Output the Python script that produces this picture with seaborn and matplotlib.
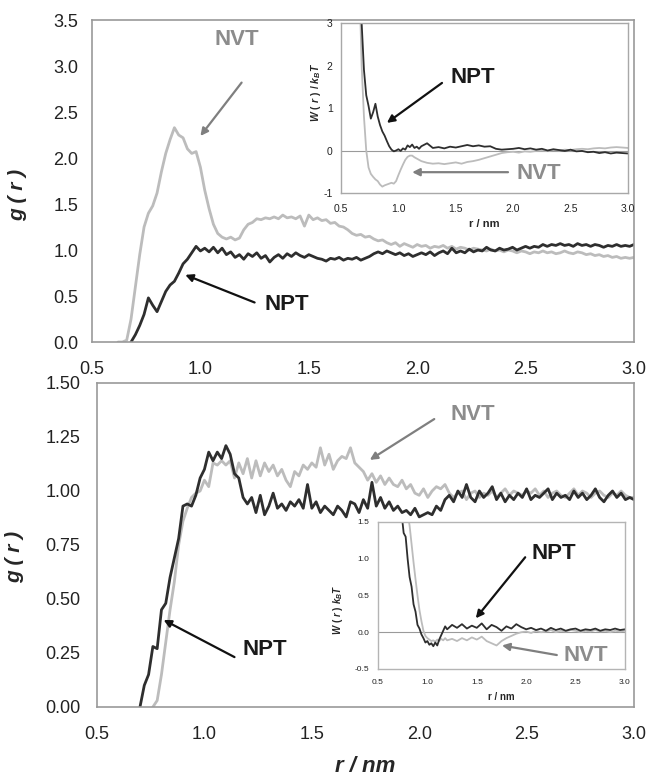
import matplotlib
matplotlib.use("Agg")
import matplotlib.pyplot as plt
from matplotlib.ticker import FormatStrFormatter, MultipleLocator
import seaborn as sns

nan = float('nan')

# r grid of the two big panels (nm)
r_main = [0.62, 0.64, 0.66, 0.68, 0.70, 0.72, 0.74, 0.76, 0.78, 0.80,
          0.82, 0.84, 0.86, 0.88, 0.90, 0.92, 0.94, 0.96, 0.98, 1.00,
          1.02, 1.04, 1.06, 1.08, 1.10, 1.12, 1.14, 1.16, 1.18, 1.20,
          1.22, 1.24, 1.26, 1.28, 1.30, 1.32, 1.34, 1.36, 1.38, 1.40,
          1.42, 1.44, 1.46, 1.48, 1.50, 1.52, 1.54, 1.56, 1.58, 1.60,
          1.62, 1.64, 1.66, 1.68, 1.70, 1.72, 1.74, 1.76, 1.78, 1.80,
          1.82, 1.84, 1.86, 1.88, 1.90, 1.92, 1.94, 1.96, 1.98, 2.00,
          2.02, 2.04, 2.06, 2.08, 2.10, 2.12, 2.14, 2.16, 2.18, 2.20,
          2.22, 2.24, 2.26, 2.28, 2.30, 2.32, 2.34, 2.36, 2.38, 2.40,
          2.42, 2.44, 2.46, 2.48, 2.50, 2.52, 2.54, 2.56, 2.58, 2.60,
          2.62, 2.64, 2.66, 2.68, 2.70, 2.72, 2.74, 2.76, 2.78, 2.80,
          2.82, 2.84, 2.86, 2.88, 2.90, 2.92, 2.94, 2.96, 2.98, 3.00]

# top panel g(r)
g_top_nvt = [0.00, 0.00, 0.02, 0.25, 0.60, 0.95, 1.25, 1.40, 1.48, 1.62,
             1.85, 2.05, 2.20, 2.33, 2.25, 2.22, 2.10, 2.05, 2.07, 1.90,
             1.65, 1.45, 1.28, 1.18, 1.14, 1.12, 1.14, 1.11, 1.13, 1.22,
             1.28, 1.30, 1.34, 1.33, 1.35, 1.34, 1.36, 1.34, 1.38, 1.35,
             1.36, 1.34, 1.37, 1.26, 1.38, 1.33, 1.35, 1.32, 1.33, 1.29,
             1.30, 1.26, 1.25, 1.22, 1.18, 1.16, 1.17, 1.14, 1.15, 1.12,
             1.10, 1.11, 1.08, 1.06, 1.08, 1.04, 1.07, 1.05, 1.03, 1.06,
             1.04, 1.05, 1.02, 1.04, 1.03, 1.05, 1.02, 1.04, 1.01, 1.03,
             1.02, 1.00, 1.02, 1.01, 1.00, 0.99, 1.01, 0.99, 1.00, 0.98,
             1.00, 0.99, 0.97, 0.99, 0.98, 0.96, 0.98, 0.97, 0.99, 0.97,
             0.98, 0.96, 0.97, 0.99, 0.97, 0.96, 0.98, 0.97, 0.95, 0.96,
             0.94, 0.95, 0.93, 0.94, 0.92, 0.93, 0.91, 0.92, 0.91, 0.92]
g_top_npt = [nan, nan, nan, 0.00, 0.08, 0.18, 0.30, 0.48, 0.40, 0.33,
             0.44, 0.55, 0.62, 0.66, 0.75, 0.85, 0.90, 0.97, 1.04, 0.99,
             1.02, 0.98, 1.03, 0.97, 1.02, 0.95, 0.98, 0.92, 0.95, 0.90,
             0.96, 0.93, 0.97, 0.91, 0.94, 0.87, 0.92, 0.95, 0.91, 0.96,
             0.93, 0.97, 0.94, 0.92, 0.95, 0.93, 0.91, 0.90, 0.88, 0.91,
             0.90, 0.92, 0.89, 0.91, 0.90, 0.92, 0.89, 0.91, 0.93, 0.96,
             0.98, 0.96, 0.99, 0.97, 0.95, 0.97, 0.94, 0.96, 0.93, 0.95,
             0.97, 0.95, 0.98, 0.94, 0.97, 0.99, 0.96, 1.02, 0.97, 0.99,
             0.97, 1.01, 0.98, 1.00, 0.99, 1.03, 1.00, 0.99, 1.02, 1.00,
             1.01, 1.03, 1.00, 1.02, 1.04, 1.02, 1.04, 1.03, 1.06, 1.04,
             1.06, 1.05, 1.07, 1.05, 1.06, 1.04, 1.07, 1.05, 1.06, 1.04,
             1.06, 1.05, 1.03, 1.05, 1.04, 1.06, 1.04, 1.05, 1.04, 1.06]

# bottom panel g(r)
g_bot_npt = [nan, nan, nan, nan, 0.00, 0.10, 0.15, 0.28, 0.27, 0.45,
             0.48, 0.60, 0.69, 0.78, 0.93, 0.94, 0.93, 0.98, 1.06, 1.10,
             1.18, 1.14, 1.18, 1.15, 1.21, 1.17, 1.08, 1.06, 0.97, 0.94,
             0.97, 0.90, 0.98, 0.89, 0.93, 0.99, 0.92, 0.94, 0.91, 0.95,
             0.93, 0.96, 0.92, 1.03, 0.92, 0.95, 0.90, 0.93, 0.91, 0.89,
             0.93, 0.91, 0.88, 0.95, 0.94, 0.90, 0.96, 0.92, 1.04, 0.93,
             0.97, 0.92, 0.95, 0.91, 0.93, 0.90, 0.91, 0.89, 0.92, 0.88,
             0.89, 0.90, 0.89, 0.93, 0.91, 0.96, 0.98, 0.95, 1.00, 0.97,
             1.03, 0.97, 0.95, 1.00, 0.97, 0.99, 1.02, 0.96, 0.99, 0.95,
             0.98, 0.96, 0.99, 0.97, 1.01, 0.96, 0.98, 0.97, 0.99, 1.01,
             0.96, 0.99, 0.97, 0.98, 0.96, 1.00, 0.97, 0.99, 0.96, 0.98,
             1.01, 0.97, 0.95, 0.98, 1.00, 0.97, 0.99, 0.96, 0.97, 0.96]
g_bot_nvt = [nan, nan, nan, nan, nan, nan, nan, 0.00, 0.03, 0.15,
             0.30, 0.45, 0.58, 0.75, 0.86, 0.92, 0.97, 0.99, 1.00, 1.05,
             1.02, 1.13, 1.12, 1.14, 1.12, 1.14, 1.06, 1.13, 1.08, 1.15,
             1.06, 1.14, 1.07, 1.13, 1.09, 1.12, 1.07, 1.10, 1.05, 1.02,
             1.09, 1.07, 1.12, 1.10, 1.13, 1.11, 1.20, 1.12, 1.17, 1.10,
             1.14, 1.16, 1.15, 1.20, 1.13, 1.11, 1.09, 1.05, 1.08, 1.04,
             1.07, 1.03, 1.06, 1.03, 1.02, 1.05, 1.01, 1.03, 0.99, 0.98,
             1.01, 0.97, 1.00, 1.02, 1.01, 1.03, 0.99, 0.97, 0.99, 1.00,
             0.96, 0.99, 1.00, 0.97, 0.99, 0.98, 1.00, 0.97, 0.99, 1.01,
             0.98, 1.00, 0.99, 0.98, 1.00, 0.99, 1.01, 0.98, 1.00, 0.97,
             0.99, 1.00, 0.98, 0.97, 0.99, 1.01, 0.98, 1.00, 0.99, 0.97,
             0.99, 1.00, 0.98, 0.97, 0.99, 0.98, 1.00, 0.98, 0.97, 0.97]

# r grid of the insets
r_ins = [0.66, 0.68, 0.70, 0.72, 0.74, 0.76, 0.78, 0.80, 0.82, 0.84,
         0.86, 0.88, 0.90, 0.92, 0.94, 0.96, 0.98, 1.00, 1.02, 1.04,
         1.06, 1.08, 1.10, 1.12, 1.14, 1.16, 1.18, 1.20,
         1.25, 1.30, 1.35, 1.40, 1.45, 1.50, 1.55, 1.60, 1.65, 1.70,
         1.75, 1.80, 1.85, 1.90, 1.95, 2.00, 2.05, 2.10, 2.15, 2.20,
         2.25, 2.30, 2.35, 2.40, 2.45, 2.50, 2.55, 2.60, 2.65, 2.70,
         2.75, 2.80, 2.85, 2.90, 2.95, 3.00]

# W(r)/kBT, top inset
w_top_npt = [5.0, 3.0, 1.9, 1.30, 1.05, 0.75, 0.90, 1.10, 0.80, 0.60,
             0.45, 0.35, 0.22, 0.10, 0.02, -0.02, 0.00, 0.03, -0.01, 0.05,
             0.02, 0.12, 0.08, 0.14, 0.06, 0.09, 0.04, 0.10,
             0.17, 0.06, 0.08, 0.05, 0.09, 0.07, 0.10, 0.13, 0.10, 0.12,
             0.09, 0.10, 0.04, 0.02, 0.03, 0.04, 0.06, 0.03, 0.05, 0.02,
             0.04, 0.00, 0.03, 0.01, -0.01, 0.02, -0.02, -0.01, -0.04, -0.03,
             -0.06, -0.04, -0.07, -0.05, -0.06, -0.07]
w_top_nvt = [4.0, 2.0, 0.8, 0.00, -0.40, -0.55, -0.62, -0.68, -0.72, -0.80,
             -0.85, -0.82, -0.80, -0.78, -0.76, -0.78, -0.72, -0.58, -0.45, -0.33,
             -0.22, -0.15, -0.12, -0.12, -0.16, -0.19, -0.22, -0.25,
             -0.29, -0.31, -0.30, -0.32, -0.30, -0.28, -0.31, -0.27, -0.25, -0.22,
             -0.18, -0.14, -0.10, -0.06, -0.04, -0.03, -0.05, -0.02, -0.03, -0.01,
             0.00, -0.01, 0.01, 0.00, 0.02, 0.01, 0.03, 0.04, 0.03, 0.05,
             0.06, 0.05, 0.07, 0.08, 0.07, 0.06]

# W(r) kBT, bottom inset
w_bot_npt = [3.0, 2.6, 2.2, 1.9, 1.6, 1.35, 1.30, 1.00, 0.75, 0.62,
             0.38, 0.28, 0.10, 0.05, -0.03, -0.08, -0.14, -0.12, -0.17, -0.15,
             -0.19, -0.14, -0.18, -0.10, -0.04, 0.02, 0.08, 0.04,
             0.10, 0.06, 0.11, 0.05, 0.09, 0.06, 0.12, 0.04, 0.10, 0.07,
             0.02, 0.08, 0.05, 0.11, 0.07, 0.04, 0.06, 0.03, 0.05, 0.02,
             0.06, 0.03, 0.05, 0.02, 0.04, 0.05, 0.02, 0.04, 0.03, 0.05,
             0.02, 0.04, 0.03, 0.05, 0.03, 0.04]
w_bot_nvt = [4.0, 3.6, 3.2, 2.8, 2.4, 2.1, 1.85, 1.62, 1.45, 1.20,
             0.95, 0.72, 0.50, 0.30, 0.15, 0.02, -0.05, -0.08, -0.10, -0.12,
             -0.11, -0.13, -0.10, -0.12, -0.09, -0.11, -0.08, -0.11,
             -0.09, -0.12, -0.08, -0.11, -0.07, -0.10, -0.06, -0.12, -0.15, -0.18,
             -0.12, -0.08, -0.05, -0.02, 0.00, 0.01, -0.01, 0.02, 0.00, 0.01,
             0.03, 0.00, 0.02, 0.01, 0.03, 0.02, 0.00, 0.02, 0.01, 0.03,
             0.01, 0.02, 0.00, 0.02, 0.01, 0.02]

sns.set_style("white")
plt.rcParams['font.family'] = ['Liberation Sans', 'DejaVu Sans']
plt.rcParams['mathtext.fontset'] = 'custom'
plt.rcParams['mathtext.it'] = 'Liberation Sans:italic:bold'
plt.rcParams['mathtext.rm'] = 'Liberation Sans:bold'
plt.rcParams['mathtext.bf'] = 'Liberation Sans:bold'

NPT_C = '#2e2e2e'
NVT_C = '#bcbcbc'
FRAME = '#999999'

fig = plt.figure(figsize=(6.49, 7.77), dpi=100)
ax1 = fig.add_axes([0.1418, 0.5598, 0.835, 0.4144])
ax2 = fig.add_axes([0.1495, 0.0901, 0.8274, 0.417])
in1 = fig.add_axes([0.5254, 0.7516, 0.4422, 0.2188])
in2 = fig.add_axes([0.5824, 0.139, 0.3806, 0.1892])


def frame(ax, color, lw, size, length, pad_x, pad_y):
    for s in ax.spines.values():
        s.set_color(color)
        s.set_linewidth(lw)
    ax.tick_params(axis='both', direction='out', length=length, width=lw,
                   color=color, labelcolor='#222222', labelsize=size)
    ax.tick_params(axis='x', pad=pad_x)
    ax.tick_params(axis='y', pad=pad_y)
    ax.grid(False)


# main panels
sns.lineplot(x=r_main, y=g_top_nvt, ax=ax1, color=NVT_C, linewidth=2.0, estimator=None)
sns.lineplot(x=r_main, y=g_top_npt, ax=ax1, color=NPT_C, linewidth=2.0, estimator=None)
sns.lineplot(x=r_main, y=g_bot_nvt, ax=ax2, color=NVT_C, linewidth=2.0, estimator=None)
sns.lineplot(x=r_main, y=g_bot_npt, ax=ax2, color=NPT_C, linewidth=2.0, estimator=None)

ax1.set_xlim(0.5, 3.0)
ax1.set_ylim(0, 3.5)
ax1.xaxis.set_major_locator(MultipleLocator(0.5))
ax1.yaxis.set_major_locator(MultipleLocator(0.5))
ax1.xaxis.set_major_formatter(FormatStrFormatter('%.1f'))
ax1.yaxis.set_major_formatter(FormatStrFormatter('%.1f'))
frame(ax1, FRAME, 1.2, 13, 4, 10, 6)
ax1.set_ylabel('g ( r )', fontsize=15, fontweight='bold', fontstyle='italic')
ax1.yaxis.set_label_coords(-0.12, 0.457)

ax2.set_xlim(0.5, 3.0)
ax2.set_ylim(0, 1.5)
ax2.xaxis.set_major_locator(MultipleLocator(0.5))
ax2.yaxis.set_major_locator(MultipleLocator(0.25))
ax2.xaxis.set_major_formatter(FormatStrFormatter('%.1f'))
ax2.yaxis.set_major_formatter(FormatStrFormatter('%.2f'))
frame(ax2, FRAME, 1.2, 13, 4, 10, 8)
ax2.set_ylabel('g ( r )', fontsize=15, fontweight='bold', fontstyle='italic')
ax2.yaxis.set_label_coords(-0.136, 0.463)
ax2.set_xlabel('r / nm', fontsize=16, fontweight='bold', fontstyle='italic')
ax2.xaxis.set_label_coords(0.5, -0.15)

# insets
for ins in (in1, in2):
    ins.axhline(0, color='#9a9a9a', linewidth=0.8, zorder=1)
sns.lineplot(x=r_ins, y=w_top_nvt, ax=in1, color=NVT_C, linewidth=1.3, estimator=None)
sns.lineplot(x=r_ins, y=w_top_npt, ax=in1, color=NPT_C, linewidth=1.3, estimator=None)
sns.lineplot(x=r_ins, y=w_bot_nvt, ax=in2, color=NVT_C, linewidth=1.3, estimator=None)
sns.lineplot(x=r_ins, y=w_bot_npt, ax=in2, color=NPT_C, linewidth=1.3, estimator=None)

in1.set_xlim(0.5, 3.0)
in1.set_ylim(-1, 3)
in1.xaxis.set_major_locator(MultipleLocator(0.5))
in1.yaxis.set_major_locator(MultipleLocator(1))
in1.xaxis.set_major_formatter(FormatStrFormatter('%.1f'))
in1.yaxis.set_major_formatter(FormatStrFormatter('%d'))
frame(in1, '#a8a8a8', 1.0, 7.5, 3, 5, 3)
in1.set_ylabel(r'$W\ (\ r\ )\ /\ k_B T$', fontsize=7.5)
in1.yaxis.set_label_coords(-0.063, 0.59)
in1.set_xlabel('r / nm', fontsize=8, fontweight='bold')
in1.xaxis.set_label_coords(0.5, -0.15)

in2.set_xlim(0.5, 3.0)
in2.set_ylim(-0.5, 1.5)
in2.xaxis.set_major_locator(MultipleLocator(0.5))
in2.yaxis.set_major_locator(MultipleLocator(0.5))
in2.xaxis.set_major_formatter(FormatStrFormatter('%.1f'))
in2.yaxis.set_major_formatter(FormatStrFormatter('%.1f'))
frame(in2, '#b4b4b4', 1.0, 6, 3, 4, 3)
in2.set_ylabel(r'$W\ (\ r\ )\ k_B T$', fontsize=7)
in2.yaxis.set_label_coords(-0.134, 0.40)
in2.set_xlabel('r / nm', fontsize=7, fontweight='bold')
in2.xaxis.set_label_coords(0.5, -0.156)


def label(ax, text, xy, tail, head, color, arrow_color):
    ax.text(xy[0], xy[1], text, fontsize=16, fontweight='bold', color=color,
            ha='center', va='center', zorder=5)
    ax.annotate('', xy=head, xytext=tail,
                arrowprops=dict(arrowstyle='-|>', color=arrow_color, lw=1.6,
                                mutation_scale=11, shrinkA=0, shrinkB=0),
                zorder=5)


label(ax1, 'NVT', (1.17, 3.29), (1.19, 2.82), (1.00, 2.24), '#8c8c8c', '#7f7f7f')
label(ax1, 'NPT', (1.40, 0.41), (1.25, 0.43), (0.93, 0.73), '#1a1a1a', '#111111')
label(in1, 'NPT', (1.65, 1.71), (1.38, 1.59), (0.90, 0.65), '#1a1a1a', '#111111')
label(in1, 'NVT', (2.22, -0.53), (1.955, -0.51), (1.12, -0.51), '#8c8c8c', '#7f7f7f')
label(ax2, 'NPT', (1.28, 0.264), (1.14, 0.231), (0.81, 0.403), '#1a1a1a', '#111111')
label(ax2, 'NVT', (2.25, 1.352), (2.07, 1.333), (1.77, 1.144), '#8c8c8c', '#7f7f7f')
label(in2, 'NPT', (2.28, 1.075), (1.99, 1.02), (1.49, 0.19), '#1a1a1a', '#111111')
label(in2, 'NVT', (2.605, -0.31), (2.31, -0.31), (1.755, -0.18), '#8c8c8c', '#7f7f7f')

fig.savefig('out.png', dpi=100)
